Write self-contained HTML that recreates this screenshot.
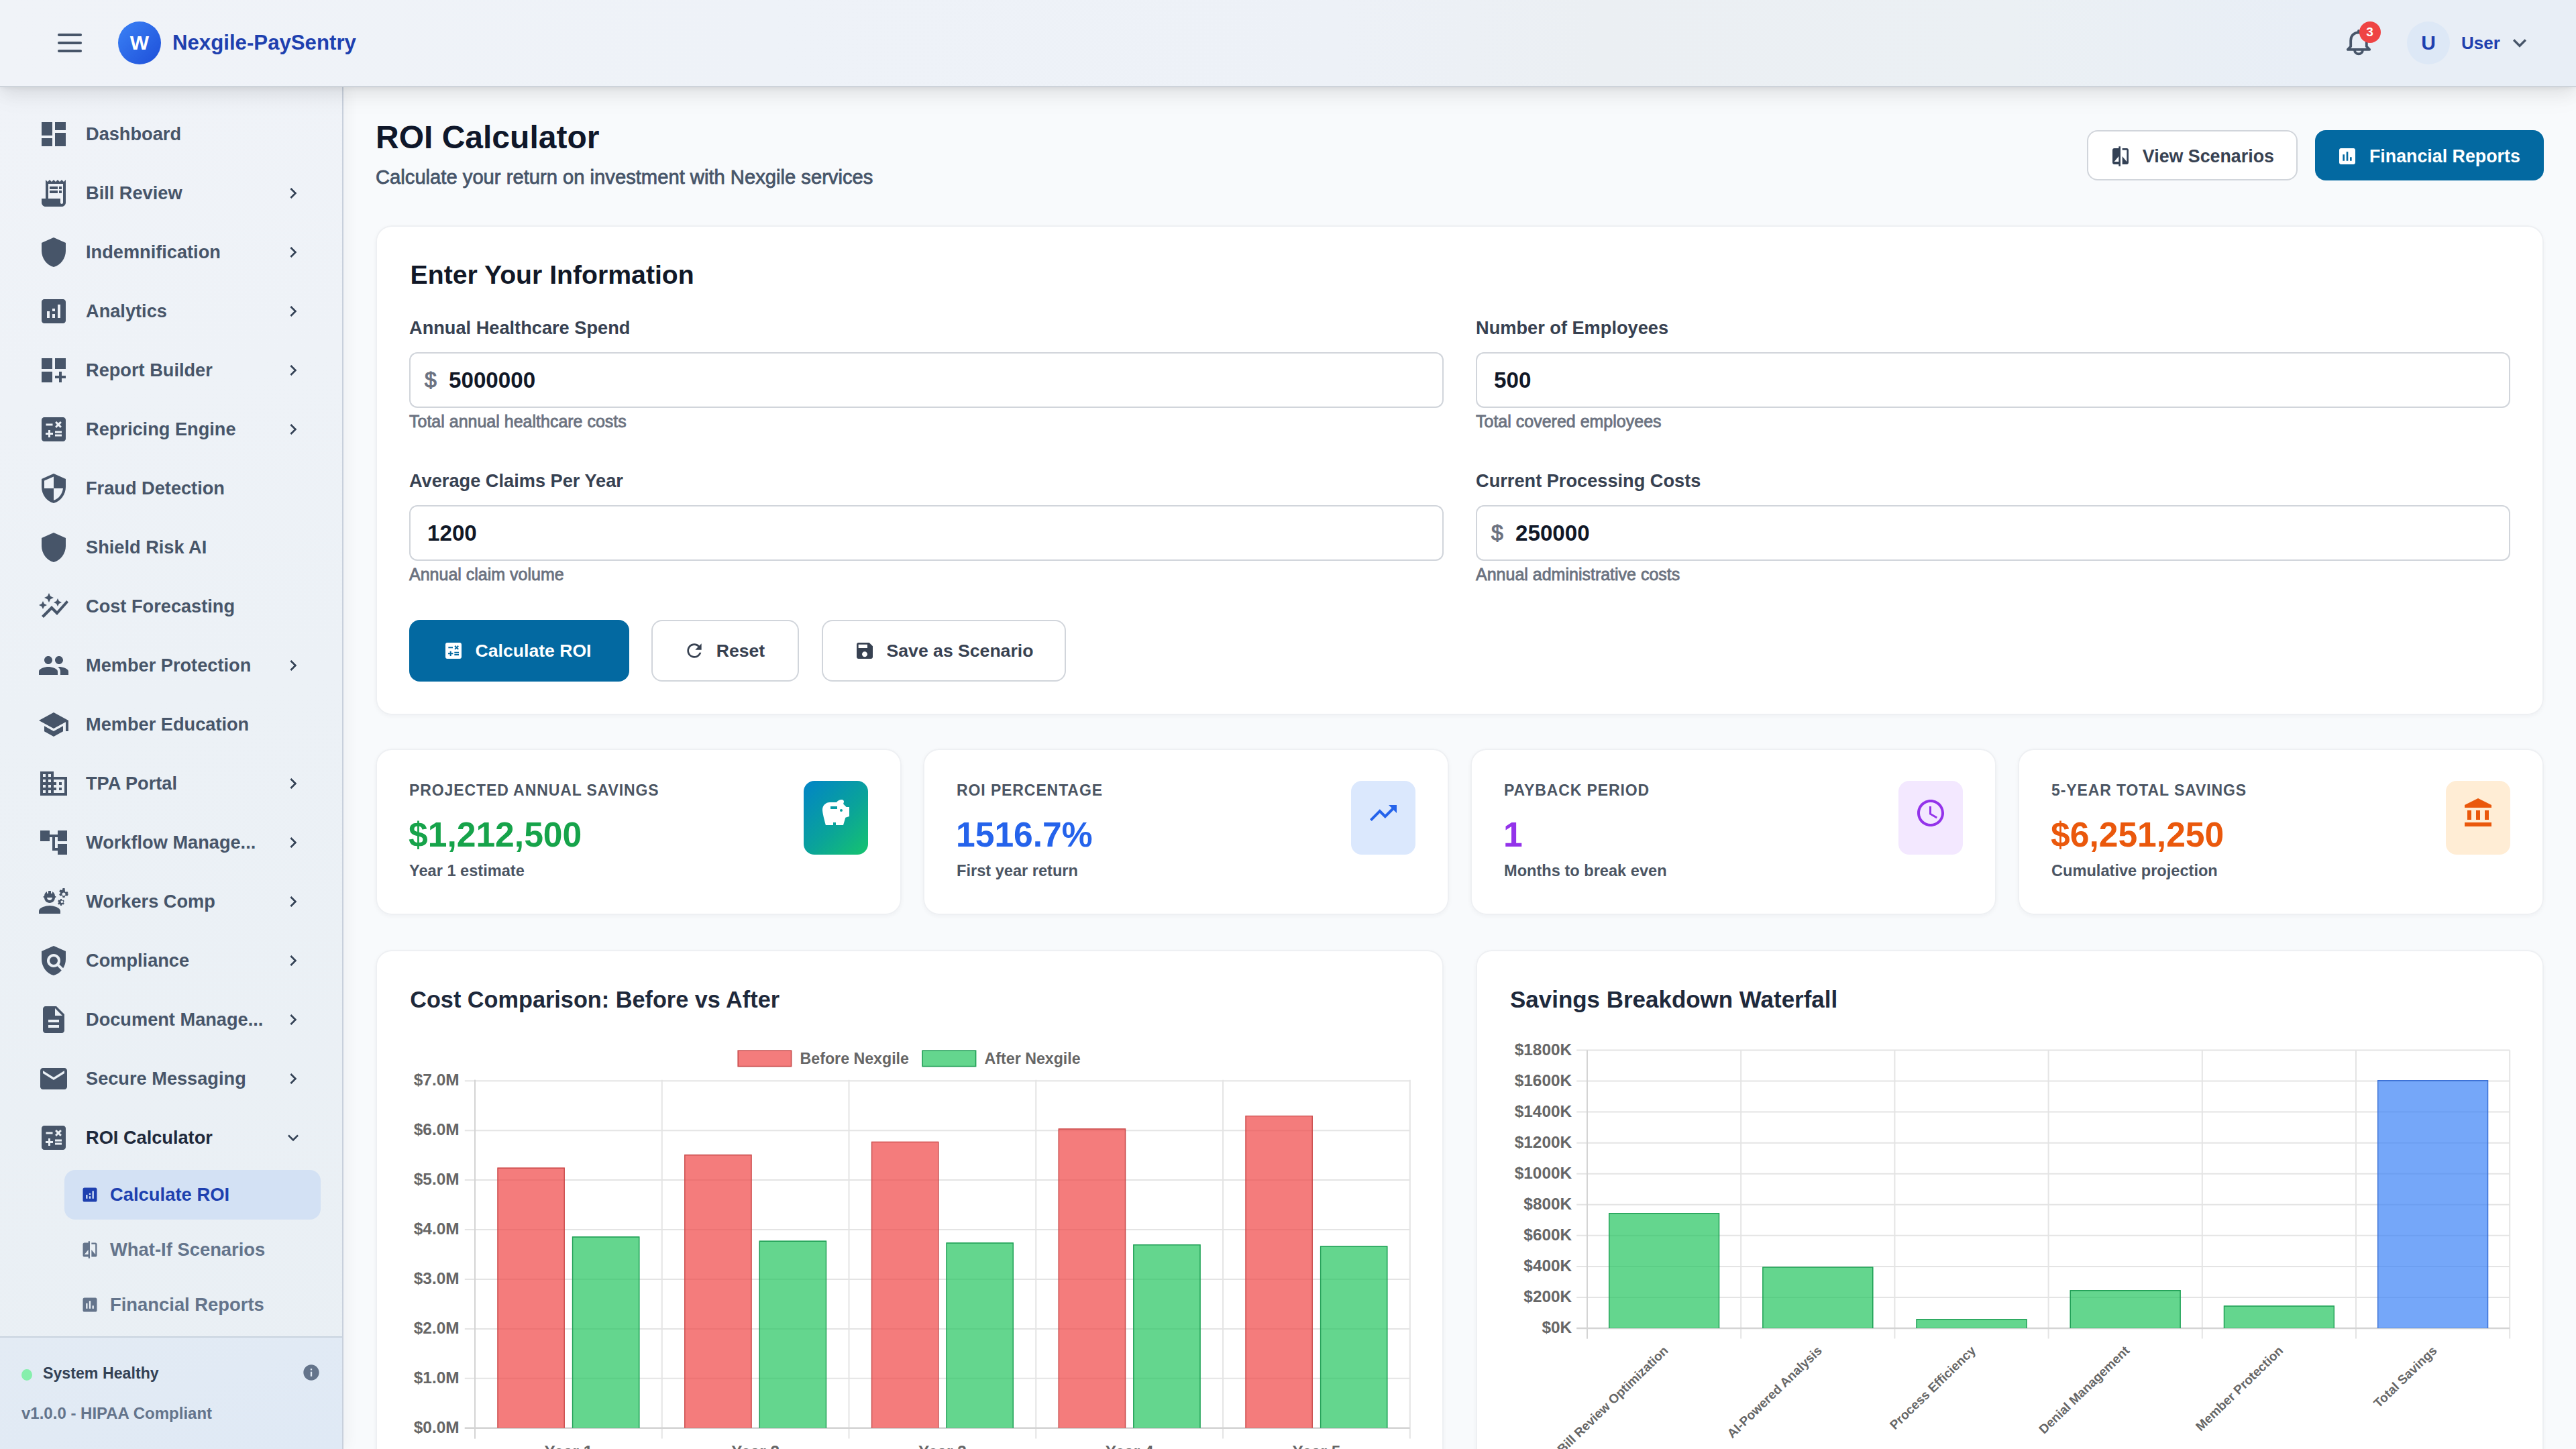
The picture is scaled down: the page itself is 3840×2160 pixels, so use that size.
<!DOCTYPE html>
<html>
<head>
<meta charset="utf-8">
<title>ROI Calculator</title>
<style>
@media (min-width: 2500px) { html { zoom: 2; } }
* { box-sizing: border-box; }
html, body { margin: 0; padding: 0; }
body { width: 1920px; height: 1080px; overflow: hidden; position: relative; background: #f8fafc; font-family: "Liberation Sans", sans-serif; color: #1f2937; }
svg { display: block; }
.abs { position: absolute; }
/* header */
#hdr { position: absolute; left: 0; top: 0; width: 1920px; height: 64px; background: linear-gradient(90deg, #f0f3f8 0%, #eef2f8 30%, #edf1f7 52%, #ebeff3 62%, #ebf0f4 78%, #e8eef6 90%, #e8eef6 100%); box-shadow: 0 1px 0 #cdd3da, 0px 2px 4px -1px rgba(0,0,0,0.08), 0px 5px 12px 0px rgba(0,0,0,0.075), 0px 9px 18px 0px rgba(0,0,0,0.04); z-index: 5; }
/* sidebar */
#side { position: absolute; left: 0; top: 64px; width: 256px; height: 1016px; background: linear-gradient(170deg, #f0f3f8 0%, #ecf1f6 45%, #e9eff4 100%); border-right: 1px solid #c8d0dc; z-index: 3; box-shadow: 2px 0 10px rgba(15,23,42,0.05); }
#main { position: absolute; left: 256px; top: 64px; width: 1664px; height: 1016px; background: #f8fafc; overflow: hidden; }
.nav { position: absolute; left: 0; width: 255px; height: 44px; }
.nav svg.ic { position: absolute; left: 28px; top: 10px; width: 24px; height: 24px; fill: #475569; }
.nav .tx { position: absolute; left: 64px; top: 0; line-height: 44px; font-size: 13.6px; font-weight: 700; color: #475569; white-space: nowrap; }
.nav svg.ch { position: absolute; left: 210.7px; top: 14px; width: 16px; height: 16px; fill: #334155; }
.sub { position: absolute; left: 48px; width: 191px; height: 37px; border-radius: 8px; }
.sub svg { position: absolute; left: 12px; top: 11.5px; width: 14px; height: 14px; fill: #64748b; }
.sub .tx { position: absolute; left: 34px; top: 0; line-height: 37px; font-size: 13.7px; font-weight: 700; color: #64748b; white-space: nowrap; }

.tx5 { -webkit-text-stroke: 0.4px currentColor; }
.hlp { -webkit-text-stroke: 0.4px currentColor; }
.dol { -webkit-text-stroke: 0.5px currentColor; }
.btn { position: absolute; box-shadow: inset 0 0 0 1px #d1d5db; border-radius: 8px; background: #fff; }
.btn span { position: absolute; top: 0.6px; line-height: 37.4px; font-size: 13.4px; font-weight: 700; color: #374151; white-space: nowrap; }
.btn.pri { background: #0369a1; box-shadow: none; }
.btn.pri span { color: #fff; }
.btn.big span { top: 0; line-height: 46px; font-size: 13.3px; }
.card { position: absolute; background: #fff; border-radius: 12px; box-shadow: inset 0 0 0 1px #eef0f3, 0 1px 3px rgba(15,23,42,0.04); }
.lbl { position: absolute; line-height: 20px; font-size: 13.6px; font-weight: 700; color: #374151; white-space: nowrap; }
.inp { position: absolute; width: 771px; height: 41.5px; box-shadow: inset 0 0 0 1px #d1d5db; border-radius: 6px; background: #fff; }
.inp .dol { position: absolute; left: 11.5px; top: 0; line-height: 41.5px; font-size: 16px; color: #6b7280; }
.inp .val { position: absolute; top: 0; line-height: 41.5px; font-size: 16.6px; font-weight: 700; color: #111827; }
.hlp { position: absolute; line-height: 18px; font-size: 12.5px; color: #6b7280; white-space: nowrap; }
.slbl { position: absolute; line-height: 16px; font-size: 11.5px; font-weight: 700; letter-spacing: 0.45px; color: #4b5563; white-space: nowrap; }
.sval { position: absolute; line-height: 32px; font-size: 25.8px; font-weight: 700; white-space: nowrap; }
.ssub { position: absolute; line-height: 18px; font-size: 11.8px; font-weight: 700; color: #4b5563; white-space: nowrap; }
.ctitle { position: absolute; line-height: 26px; font-size: 17.2px; font-weight: 700; color: #1e293b; white-space: nowrap; }
text.tk { font-family: "Liberation Sans", sans-serif; font-size: 12.2px; font-weight: 700; fill: #666; }
text.lg { font-family: "Liberation Sans", sans-serif; font-size: 11.6px; font-weight: 700; fill: #666; }
text.tkx { font-family: "Liberation Sans", sans-serif; font-size: 9.5px; font-weight: 700; fill: #666; }
</style>
</head>
<body>

<!-- HEADER -->
<div id="hdr">
  <svg class="abs" style="left:40px;top:20px;width:24px;height:24px;fill:none;stroke:#475569;stroke-width:2.1;stroke-linecap:round" viewBox="0 0 24 24"><path d="M4 6h16M4 12h16M4 18h16"/></svg>
  <div class="abs" style="left:88px;top:16px;width:32px;height:32px;border-radius:50%;background:linear-gradient(135deg,#3b82f6,#1d4ed8);color:#fff;font-weight:700;font-size:15px;line-height:32px;text-align:center;">W</div>
  <div class="abs" style="left:128.5px;top:0;line-height:64px;font-size:15.6px;font-weight:700;color:#1e40af;white-space:nowrap;">Nexgile-PaySentry</div>

  <svg class="abs" style="left:1746px;top:20px;width:24px;height:24px;fill:none;stroke:#475569;stroke-width:1.9;stroke-linecap:round;stroke-linejoin:round" viewBox="0 0 24 24"><path d="M3.9 16.9 H20.1 L17.9 14.6 V10.2 C17.9 6.6 15.4 4.2 12 4.2 C8.6 4.2 6.1 6.6 6.1 10.2 V14.6 Z"/><path d="M12 3 V4.2"/><path d="M9 17.2 A3 3 0 0 0 15 17.2"/></svg>
  <div class="abs" style="left:1758.3px;top:16px;width:16px;height:16px;border-radius:50%;background:#ef4444;color:#fff;font-size:9.5px;font-weight:700;line-height:16px;text-align:center;">3</div>
  <div class="abs" style="left:1794px;top:16px;width:32px;height:32px;border-radius:50%;background:#dde8f6;color:#1e40af;font-size:15px;font-weight:700;line-height:32px;text-align:center;">U</div>
  <div class="abs" style="left:1834.5px;top:0;line-height:64px;font-size:13px;font-weight:700;color:#1e40af;">User</div>
  <svg class="abs" style="left:1868px;top:21.8px;width:20px;height:20px;fill:#475569" viewBox="0 0 24 24"><path d="M16.59 8.59 12 13.17 7.41 8.59 6 10l6 6 6-6z"/></svg>
</div>

<!-- SIDEBAR -->
<div id="side">
<div class="nav" style="top:14px"><svg class="ic" viewBox="0 0 24 24"><path d="M3 13h8V3H3v10zm0 8h8v-6H3v6zm10 0h8V11h-8v10zm0-18v6h8V3h-8z"/></svg><div class="tx">Dashboard</div></div>
<div class="nav" style="top:58px"><svg class="ic" viewBox="0 0 24 24"><path d="M19.5 3.5 18 2l-1.5 1.5L15 2l-1.5 1.5L12 2l-1.5 1.5L9 2 7.5 3.5 6 2v14H3v3c0 1.66 1.34 3 3 3h12c1.66 0 3-1.34 3-3V2l-1.5 1.5zM19 19c0 .55-.45 1-1 1s-1-.45-1-1v-3H8V5h11v14zM9 7h6v2H9zm7 0h2v2h-2zm-7 3h6v2H9zm7 0h2v2h-2z"/></svg><div class="tx">Bill Review</div><svg class="ch" viewBox="0 0 24 24"><path d="M10 6 8.59 7.41 13.17 12l-4.58 4.59L10 18l6-6z"/></svg></div>
<div class="nav" style="top:102px"><svg class="ic" viewBox="0 0 24 24"><path d="M12 1 3 5v6c0 5.55 3.84 10.74 9 12 5.16-1.26 9-6.45 9-12V5l-9-4z"/></svg><div class="tx">Indemnification</div><svg class="ch" viewBox="0 0 24 24"><path d="M10 6 8.59 7.41 13.17 12l-4.58 4.59L10 18l6-6z"/></svg></div>
<div class="nav" style="top:146px"><svg class="ic" viewBox="0 0 24 24"><path d="M19 3H5c-1.1 0-2 .9-2 2v14c0 1.1.9 2 2 2h14c1.1 0 2-.9 2-2V5c0-1.1-.9-2-2-2zM9 17H7v-5h2v5zm4 0h-2v-3h2v3zm0-5h-2v-2h2v2zm4 5h-2V7h2v10z"/></svg><div class="tx">Analytics</div><svg class="ch" viewBox="0 0 24 24"><path d="M10 6 8.59 7.41 13.17 12l-4.58 4.59L10 18l6-6z"/></svg></div>
<div class="nav" style="top:190px"><svg class="ic" viewBox="0 0 24 24"><path d="M3 3h8v8H3zm10 0h8v8h-8zM3 13h8v8H3zm15 0h-2v3h-3v2h3v3h2v-3h3v-2h-3z"/></svg><div class="tx">Report Builder</div><svg class="ch" viewBox="0 0 24 24"><path d="M10 6 8.59 7.41 13.17 12l-4.58 4.59L10 18l6-6z"/></svg></div>
<div class="nav" style="top:234px"><svg class="ic" viewBox="0 0 24 24"><path d="M19 3H5c-1.1 0-2 .9-2 2v14c0 1.1.9 2 2 2h14c1.1 0 2-.9 2-2V5c0-1.1-.9-2-2-2zm-5.97 4.06L14.09 6l1.41 1.41L16.91 6l1.06 1.06-1.41 1.41 1.41 1.41-1.06 1.06-1.41-1.4-1.41 1.41-1.06-1.06 1.41-1.41-1.41-1.42zm-6.78.66h5v1.5h-5v-1.5zM11.5 16h-2v2H8v-2H6v-1.5h2v-2h1.5v2h2V16zm6.5 1.25h-5v-1.5h5v1.5zm0-2.5h-5v-1.5h5v1.5z"/></svg><div class="tx">Repricing Engine</div><svg class="ch" viewBox="0 0 24 24"><path d="M10 6 8.59 7.41 13.17 12l-4.58 4.59L10 18l6-6z"/></svg></div>
<div class="nav" style="top:278px"><svg class="ic" viewBox="0 0 24 24"><path d="M12 1 3 5v6c0 5.55 3.84 10.74 9 12 5.16-1.26 9-6.45 9-12V5l-9-4zm0 10.99h7c-.53 4.12-3.28 7.79-7 8.94V12H5V6.3l7-3.11v8.8z"/></svg><div class="tx">Fraud Detection</div></div>
<div class="nav" style="top:322px"><svg class="ic" viewBox="0 0 24 24"><path d="M12 1 3 5v6c0 5.55 3.84 10.74 9 12 5.16-1.26 9-6.45 9-12V5l-9-4z"/></svg><div class="tx">Shield Risk AI</div></div>
<div class="nav" style="top:366px"><svg class="ic" viewBox="0 0 24 24"><path d="M14.06 9.94 12 9l2.06-.94L15 6l.94 2.06L18 9l-2.06.94L15 12l-.94-2.06zM4 14l.94-2.06L7 11l-2.06-.94L4 8l-.94 2.06L1 11l2.06.94L4 14zm4.5-5 1.09-2.41L12 5.5 9.59 4.41 8.5 2 7.41 4.41 5 5.5l2.41 1.09L8.5 9zm-4 11.5 6-6.01 4 4L23 8.93l-1.41-1.41-7.09 7.97-4-4L3 19l1.5 1.5z"/></svg><div class="tx">Cost Forecasting</div></div>
<div class="nav" style="top:410px"><svg class="ic" viewBox="0 0 24 24"><path d="M16 11c1.66 0 2.99-1.34 2.99-3S17.66 5 16 5c-1.66 0-3 1.34-3 3s1.34 3 3 3zm-8 0c1.66 0 2.99-1.34 2.99-3S9.66 5 8 5C6.34 5 5 6.34 5 8s1.34 3 3 3zm0 2c-2.33 0-7 1.17-7 3.5V19h14v-2.5c0-2.33-4.67-3.5-7-3.5zm8 0c-.29 0-.62.02-.97.05 1.16.84 1.97 1.97 1.97 3.45V19h6v-2.5c0-2.33-4.67-3.5-7-3.5z"/></svg><div class="tx">Member Protection</div><svg class="ch" viewBox="0 0 24 24"><path d="M10 6 8.59 7.41 13.17 12l-4.58 4.59L10 18l6-6z"/></svg></div>
<div class="nav" style="top:454px"><svg class="ic" viewBox="0 0 24 24"><path d="M5 13.18v4L12 21l7-3.82v-4L12 17l-7-3.82zM12 3 1 9l11 6 9-4.91V17h2V9L12 3z"/></svg><div class="tx">Member Education</div></div>
<div class="nav" style="top:498px"><svg class="ic" viewBox="0 0 24 24"><path d="M12 7V3H2v18h20V7H12zM6 19H4v-2h2v2zm0-4H4v-2h2v2zm0-4H4V9h2v2zm0-4H4V5h2v2zm4 12H8v-2h2v2zm0-4H8v-2h2v2zm0-4H8V9h2v2zm0-4H8V5h2v2zm10 12h-8v-2h2v-2h-2v-2h2v-2h-2V9h8v10zm-2-8h-2v2h2v-2zm0 4h-2v2h2v-2z"/></svg><div class="tx">TPA Portal</div><svg class="ch" viewBox="0 0 24 24"><path d="M10 6 8.59 7.41 13.17 12l-4.58 4.59L10 18l6-6z"/></svg></div>
<div class="nav" style="top:542px"><svg class="ic" viewBox="0 0 24 24"><path d="M22 11V3h-7v3H9V3H2v8h7V8h2v10h4v3h7v-8h-7v3h-2V8h2v3z"/></svg><div class="tx">Workflow Manage...</div><svg class="ch" viewBox="0 0 24 24"><path d="M10 6 8.59 7.41 13.17 12l-4.58 4.59L10 18l6-6z"/></svg></div>
<div class="nav" style="top:586px"><svg class="ic" viewBox="0 0 24 24"><path d="M9 15c-2.67 0-8 1.34-8 4v2h16v-2c0-2.66-5.33-4-8-4zM4.74 9H5c0 2.21 1.79 4 4 4s4-1.79 4-4h.26c.27 0 .49-.22.49-.49v-.02c0-.27-.22-.49-.49-.49H13c0-1.48-.81-2.75-2-3.45v.95c0 .28-.22.5-.5.5s-.5-.22-.5-.5V4.14C9.68 4.06 9.35 4 9 4s-.68.06-1 .14V5.5c0 .28-.22.5-.5.5S7 5.78 7 5.5v-.95C5.81 5.25 5 6.52 5 8h-.26c-.27 0-.49.22-.49.49v.03c0 .26.22.48.49.48zM9 11c-1.1 0-2-.9-2-2h4c0 1.1-.9 2-2 2zm12.98-4.37.93-.83-.75-1.3-1.19.39c-.14-.11-.3-.2-.47-.27L20.25 2h-1.5l-.25 1.22c-.17.07-.33.16-.48.27l-1.18-.39-.75 1.3.93.83c-.02.17-.02.35 0 .52l-.93.85.75 1.3 1.2-.38c.13.1.28.18.43.25l.28 1.23h1.5l.27-1.22c.16-.07.3-.15.44-.25l1.19.38.75-1.3-.93-.85c.03-.19.02-.36.01-.53zM19.5 7.75c-.69 0-1.25-.56-1.25-1.25s.56-1.25 1.25-1.25 1.25.56 1.25 1.25-.56 1.25-1.25 1.25zm-.1 3.04-.85.28c-.1-.08-.21-.14-.33-.19l-.18-.88h-1.07l-.18.87c-.12.05-.24.12-.34.19l-.84-.28-.54.93.66.59c-.01.13-.01.25 0 .37l-.66.61.54.93.86-.27c.1.07.2.13.31.18l.18.88h1.07l.19-.87c.11-.05.22-.11.32-.18l.85.27.54-.93-.66-.61c.01-.13.01-.25 0-.37l.66-.59-.53-.93zM18.15 13c-.49 0-.89-.4-.89-.89s.4-.89.89-.89.89.4.89.89-.4.89-.89.89z"/></svg><div class="tx">Workers Comp</div><svg class="ch" viewBox="0 0 24 24"><path d="M10 6 8.59 7.41 13.17 12l-4.58 4.59L10 18l6-6z"/></svg></div>
<div class="nav" style="top:630px"><svg class="ic" viewBox="0 0 24 24"><path d="M21 5l-9-4-9 4v6c0 5.55 3.84 10.74 9 12 2.3-.56 4.33-1.9 5.88-3.71l-3.12-3.12c-1.94 1.29-4.58 1.07-6.29-.64-1.95-1.95-1.95-5.12 0-7.07 1.95-1.95 5.12-1.95 7.07 0 1.71 1.71 1.92 4.35.64 6.29l2.9 2.9C20.29 15.69 21 13.38 21 11V5zM12 9a3 3 0 1 0 0 6 3 3 0 1 0 0-6z"/></svg><div class="tx">Compliance</div><svg class="ch" viewBox="0 0 24 24"><path d="M10 6 8.59 7.41 13.17 12l-4.58 4.59L10 18l6-6z"/></svg></div>
<div class="nav" style="top:674px"><svg class="ic" viewBox="0 0 24 24"><path d="M14 2H6c-1.1 0-1.99.9-1.99 2L4 20c0 1.1.89 2 1.99 2H18c1.1 0 2-.9 2-2V8l-6-6zm2 16H8v-2h8v2zm0-4H8v-2h8v2zm-3-5V3.5L18.5 9H13z"/></svg><div class="tx">Document Manage...</div><svg class="ch" viewBox="0 0 24 24"><path d="M10 6 8.59 7.41 13.17 12l-4.58 4.59L10 18l6-6z"/></svg></div>
<div class="nav" style="top:718px"><svg class="ic" viewBox="0 0 24 24"><path d="M20 4H4c-1.1 0-1.99.9-1.99 2L2 18c0 1.1.9 2 2 2h16c1.1 0 2-.9 2-2V6c0-1.1-.9-2-2-2zm0 4-8 5-8-5V6l8 5 8-5v2z"/></svg><div class="tx">Secure Messaging</div><svg class="ch" viewBox="0 0 24 24"><path d="M10 6 8.59 7.41 13.17 12l-4.58 4.59L10 18l6-6z"/></svg></div>
<div class="nav" style="top:762px"><svg class="ic" viewBox="0 0 24 24"><path d="M19 3H5c-1.1 0-2 .9-2 2v14c0 1.1.9 2 2 2h14c1.1 0 2-.9 2-2V5c0-1.1-.9-2-2-2zm-5.97 4.06L14.09 6l1.41 1.41L16.91 6l1.06 1.06-1.41 1.41 1.41 1.41-1.06 1.06-1.41-1.4-1.41 1.41-1.06-1.06 1.41-1.41-1.41-1.42zm-6.78.66h5v1.5h-5v-1.5zM11.5 16h-2v2H8v-2H6v-1.5h2v-2h1.5v2h2V16zm6.5 1.25h-5v-1.5h5v1.5zm0-2.5h-5v-1.5h5v1.5z"/></svg><div class="tx" style="color:#1e293b">ROI Calculator</div><svg class="ch" viewBox="0 0 24 24"><path d="M16.59 8.59 12 13.17 7.41 8.59 6 10l6 6 6-6z"/></svg></div>
<div class="sub" style="top:808px;background:#d3e1f4"><svg viewBox="0 0 24 24" style="fill:#1e40af"><path d="M19 3H5c-1.1 0-2 .9-2 2v14c0 1.1.9 2 2 2h14c1.1 0 2-.9 2-2V5c0-1.1-.9-2-2-2zM9 17H7v-5h2v5zm4 0h-2v-3h2v3zm0-5h-2v-2h2v2zm4 5h-2V7h2v10z"/></svg><div class="tx" style="color:#1e40af">Calculate ROI</div></div>
<div class="sub" style="top:849px"><svg viewBox="0 0 24 24"><path d="M10 3H5c-1.1 0-2 .9-2 2v14c0 1.1.9 2 2 2h5v2h2V1h-2v2zm0 15H5l5-6v6zm9-15h-5v2h5v13l-5-6v9h5c1.1 0 2-.9 2-2V5c0-1.1-.9-2-2-2z"/></svg><div class="tx">What-If Scenarios</div></div>
<div class="sub" style="top:890px"><svg viewBox="0 0 24 24"><path d="M19 3H5c-1.1 0-2 .9-2 2v14c0 1.1.9 2 2 2h14c1.1 0 2-.9 2-2V5c0-1.1-.9-2-2-2zM9 17H7v-7h2v7zm4 0h-2V7h2v10zm4 0h-2v-4h2v4z"/></svg><div class="tx">Financial Reports</div></div>
<div class="abs" style="left:0;top:932px;width:255px;height:84px;background:linear-gradient(160deg,#e3ebf4,#dfe9f5);border-top:1px solid #c9d3df"></div>
<div class="abs" style="left:16px;top:956.5px;width:8px;height:8.5px;border-radius:50%;background:#86efac"></div>
<div class="abs" style="left:32px;top:950px;line-height:19px;font-size:11.6px;font-weight:700;color:#334155;white-space:nowrap">System Healthy</div>
<svg class="abs" style="left:225px;top:952px;width:14px;height:14px;fill:#64748b" viewBox="0 0 24 24"><path d="M12 2C6.48 2 2 6.48 2 12s4.48 10 10 10 10-4.48 10-10S17.52 2 12 2zm1 15h-2v-6h2v6zm0-8h-2V7h2v2z"/></svg>
<div class="abs" style="left:16px;top:980px;line-height:19px;font-size:12px;font-weight:700;color:#64748b;white-space:nowrap">v1.0.0 - HIPAA Compliant</div>
</div>

<!-- MAIN -->
<div id="main">
<div class="abs" style="left:24px;top:22px;line-height:33px;font-size:24px;font-weight:700;color:#0f172a;white-space:nowrap">ROI Calculator</div>
<div class="abs tx5" style="left:24px;top:58px;line-height:20px;font-size:14.6px;color:#475569;white-space:nowrap">Calculate your return on investment with Nexgile services</div>
<div class="btn" style="left:1299.4px;top:33.2px;width:157.3px;height:37.4px"><svg class="abs" style="left:17px;top:11.1px;width:16px;height:16px;fill:#334155" viewBox="0 0 24 24"><path d="M10 3H5c-1.1 0-2 .9-2 2v14c0 1.1.9 2 2 2h5v2h2V1h-2v2zm0 15H5l5-6v6zm9-15h-5v2h5v13l-5-6v9h5c1.1 0 2-.9 2-2V5c0-1.1-.9-2-2-2z"/></svg><span style="left:41.5px">View Scenarios</span></div>
<div class="btn pri" style="left:1469.3px;top:33.2px;width:170.7px;height:37.4px"><svg class="abs" style="left:16.3px;top:11.1px;width:16px;height:16px;fill:#fff" viewBox="0 0 24 24"><path d="M19 3H5c-1.1 0-2 .9-2 2v14c0 1.1.9 2 2 2h14c1.1 0 2-.9 2-2V5c0-1.1-.9-2-2-2zM9 17H7v-7h2v7zm4 0h-2V7h2v10zm4 0h-2v-4h2v4z"/></svg><span style="left:40.7px">Financial Reports</span></div>
<div class="card" style="left:24px;top:104px;width:1616px;height:365px"><div class="abs" style="left:25.8px;top:24px;line-height:26px;font-size:19.6px;font-weight:700;color:#111827;white-space:nowrap">Enter Your Information</div><div class="lbl" style="left:25px;top:66.5px">Annual Healthcare Spend</div><div class="inp" style="left:25px;top:94.5px"><span class="dol">$</span><span class="val" style="left:29.5px">5000000</span></div><div class="hlp tx5" style="left:25px;top:137px">Total annual healthcare costs</div><div class="lbl" style="left:820px;top:66.5px">Number of Employees</div><div class="inp" style="left:820px;top:94.5px"><span class="val" style="left:13.5px">500</span></div><div class="hlp tx5" style="left:820px;top:137px">Total covered employees</div><div class="lbl" style="left:25px;top:180.5px">Average Claims Per Year</div><div class="inp" style="left:25px;top:208.5px"><span class="val" style="left:13.5px">1200</span></div><div class="hlp tx5" style="left:25px;top:251px">Annual claim volume</div><div class="lbl" style="left:820px;top:180.5px">Current Processing Costs</div><div class="inp" style="left:820px;top:208.5px"><span class="dol">$</span><span class="val" style="left:29.5px">250000</span></div><div class="hlp tx5" style="left:820px;top:251px">Annual administrative costs</div><div class="btn pri big" style="left:25px;top:294px;width:164px;height:46px"><svg class="abs" style="left:24.8px;top:15px;width:16px;height:16px;fill:#fff" viewBox="0 0 24 24"><path d="M19 3H5c-1.1 0-2 .9-2 2v14c0 1.1.9 2 2 2h14c1.1 0 2-.9 2-2V5c0-1.1-.9-2-2-2zm-5.97 4.06L14.09 6l1.41 1.41L16.91 6l1.06 1.06-1.41 1.41 1.41 1.41-1.06 1.06-1.41-1.4-1.41 1.41-1.06-1.06 1.41-1.41-1.41-1.42zm-6.78.66h5v1.5h-5v-1.5zM11.5 16h-2v2H8v-2H6v-1.5h2v-2h1.5v2h2V16zm6.5 1.25h-5v-1.5h5v1.5zm0-2.5h-5v-1.5h5v1.5z"/></svg><span style="left:49.3px">Calculate ROI</span></div><div class="btn big" style="left:205.3px;top:294px;width:110.3px;height:46px"><svg class="abs" style="left:24px;top:15px;width:16px;height:16px;fill:#374151" viewBox="0 0 24 24"><path d="M17.65 6.35C16.2 4.9 14.21 4 12 4c-4.42 0-7.99 3.58-7.99 8s3.57 8 7.99 8c3.73 0 6.84-2.55 7.73-6h-2.08c-.82 2.33-3.04 4-5.65 4-3.31 0-6-2.69-6-6s2.69-6 6-6c1.66 0 3.14.69 4.22 1.78L13 11h7V4l-2.35 2.35z"/></svg><span style="left:48.6px">Reset</span></div><div class="btn big" style="left:332.3px;top:294px;width:182.1px;height:46px"><svg class="abs" style="left:24.3px;top:15px;width:16px;height:16px;fill:#374151" viewBox="0 0 24 24"><path d="M17 3H5c-1.11 0-2 .9-2 2v14c0 1.1.89 2 2 2h14c1.1 0 2-.9 2-2V7l-4-4zm-5 16c-1.66 0-3-1.34-3-3s1.34-3 3-3 3 1.34 3 3-1.34 3-3 3zm3-10H5V5h10v4z"/></svg><span style="left:48.5px">Save as Scenario</span></div></div>
<div class="card" style="left:24px;top:494px;width:392px;height:124px"><div class="slbl" style="left:25px;top:23.2px">PROJECTED ANNUAL SAVINGS</div><div class="sval" style="left:24.5px;top:48px;color:#16a34a">$1,212,500</div><div class="ssub" style="left:25px;top:82px">Year 1 estimate</div><div class="abs" style="left:319px;top:24px;width:48px;height:55px;border-radius:8px;background:linear-gradient(135deg,#0284c7 0%,#0aa39a 55%,#16c46e 100%)"><svg class="abs" style="left:12px;top:12px;width:24px;height:24px;fill:#ffffff" viewBox="0 0 24 24"><path d="M19.83 7.5l-2.27-2.27c.07-.42.18-.81.32-1.15.08-.18.12-.37.12-.58 0-.83-.67-1.5-1.5-1.5-1.64 0-3.09.79-4 2h-5C4.46 4 2 6.46 2 9.5S4.5 21 4.5 21H10v-2h2v2h5.5l1.68-5.59 2.82-.94V7.5h-2.17zM13 9H8V7h5v2zm3 2c-.55 0-1-.45-1-1s.45-1 1-1 1 .45 1 1-.45 1-1 1z"/></svg></div></div>
<div class="card" style="left:432px;top:494px;width:392px;height:124px"><div class="slbl" style="left:25px;top:23.2px">ROI PERCENTAGE</div><div class="sval" style="left:24.5px;top:48px;color:#2563eb">1516.7%</div><div class="ssub" style="left:25px;top:82px">First year return</div><div class="abs" style="left:319px;top:24px;width:48px;height:55px;border-radius:8px;background:#dbe8fd"><svg class="abs" style="left:12px;top:12px;width:24px;height:24px;fill:#2563eb" viewBox="0 0 24 24"><path d="M16 6l2.29 2.29-4.88 4.88-4-4L2 16.59 3.41 18l6-6 4 4 6.3-6.29L22 12V6z"/></svg></div></div>
<div class="card" style="left:840px;top:494px;width:392px;height:124px"><div class="slbl" style="left:25px;top:23.2px">PAYBACK PERIOD</div><div class="sval" style="left:24.5px;top:48px;color:#9333ea">1</div><div class="ssub" style="left:25px;top:82px">Months to break even</div><div class="abs" style="left:319px;top:24px;width:48px;height:55px;border-radius:8px;background:#f3e8ff"><svg class="abs" style="left:12px;top:12px;width:24px;height:24px;fill:#9333ea" viewBox="0 0 24 24"><path d="M11.99 2C6.47 2 2 6.48 2 12s4.47 10 9.99 10C17.52 22 22 17.52 22 12S17.52 2 11.99 2zM12 20c-4.42 0-8-3.58-8-8s3.58-8 8-8 8 3.58 8 8-3.58 8-8 8zm.5-13H11v6l5.25 3.15.75-1.23-4.5-2.67z"/></svg></div></div>
<div class="card" style="left:1248px;top:494px;width:392px;height:124px"><div class="slbl" style="left:25px;top:23.2px">5-YEAR TOTAL SAVINGS</div><div class="sval" style="left:24.5px;top:48px;color:#ea580c">$6,251,250</div><div class="ssub" style="left:25px;top:82px">Cumulative projection</div><div class="abs" style="left:319px;top:24px;width:48px;height:55px;border-radius:8px;background:#ffedd5"><svg class="abs" style="left:12px;top:12px;width:24px;height:24px;fill:#ea580c" viewBox="0 0 24 24"><path d="M4 10h3v7H4zM10.5 10h3v7h-3zM2 19h20v3H2zM17 10h3v7h-3zM12 1 2 6v2h20V6z"/></svg></div></div>
<div class="card" style="left:24px;top:644px;width:796px;height:560px"><svg class="abs" style="left:0;top:0;overflow:visible" width="796" height="400"><line x1="66.39999999999998" y1="356.4000000000001" x2="770.9000000000001" y2="356.4000000000001" stroke="#e4e4e4" stroke-width="1"/><text x="62.30000000000001" y="359.9000000000001" text-anchor="end" class="tk">$0.0M</text><line x1="66.39999999999998" y1="319.43000000000006" x2="770.9000000000001" y2="319.43000000000006" stroke="#e4e4e4" stroke-width="1"/><text x="62.30000000000001" y="322.93000000000006" text-anchor="end" class="tk">$1.0M</text><line x1="66.39999999999998" y1="282.46000000000004" x2="770.9000000000001" y2="282.46000000000004" stroke="#e4e4e4" stroke-width="1"/><text x="62.30000000000001" y="285.96000000000004" text-anchor="end" class="tk">$2.0M</text><line x1="66.39999999999998" y1="245.49000000000012" x2="770.9000000000001" y2="245.49000000000012" stroke="#e4e4e4" stroke-width="1"/><text x="62.30000000000001" y="248.99000000000012" text-anchor="end" class="tk">$3.0M</text><line x1="66.39999999999998" y1="208.5200000000001" x2="770.9000000000001" y2="208.5200000000001" stroke="#e4e4e4" stroke-width="1"/><text x="62.30000000000001" y="212.0200000000001" text-anchor="end" class="tk">$4.0M</text><line x1="66.39999999999998" y1="171.55000000000007" x2="770.9000000000001" y2="171.55000000000007" stroke="#e4e4e4" stroke-width="1"/><text x="62.30000000000001" y="175.05000000000007" text-anchor="end" class="tk">$5.0M</text><line x1="66.39999999999998" y1="134.58000000000015" x2="770.9000000000001" y2="134.58000000000015" stroke="#e4e4e4" stroke-width="1"/><text x="62.30000000000001" y="138.08000000000015" text-anchor="end" class="tk">$6.0M</text><line x1="66.39999999999998" y1="97.61000000000013" x2="770.9000000000001" y2="97.61000000000013" stroke="#e4e4e4" stroke-width="1"/><text x="62.30000000000001" y="101.11000000000013" text-anchor="end" class="tk">$7.0M</text><line x1="74.0" y1="96.89999999999998" x2="74.0" y2="364.20000000000005" stroke="#e4e4e4" stroke-width="1"/><line x1="213.38" y1="96.89999999999998" x2="213.38" y2="364.20000000000005" stroke="#e4e4e4" stroke-width="1"/><line x1="352.76" y1="96.89999999999998" x2="352.76" y2="364.20000000000005" stroke="#e4e4e4" stroke-width="1"/><line x1="492.1400000000001" y1="96.89999999999998" x2="492.1400000000001" y2="364.20000000000005" stroke="#e4e4e4" stroke-width="1"/><line x1="631.5200000000001" y1="96.89999999999998" x2="631.5200000000001" y2="364.20000000000005" stroke="#e4e4e4" stroke-width="1"/><line x1="770.9000000000001" y1="96.89999999999998" x2="770.9000000000001" y2="364.20000000000005" stroke="#e4e4e4" stroke-width="1"/><line x1="74.0" y1="96.89999999999998" x2="74.0" y2="364.20000000000005" stroke="#d4d4d4" stroke-width="1"/><line x1="66.39999999999998" y1="356.4000000000001" x2="770.9000000000001" y2="356.4000000000001" stroke="#d4d4d4" stroke-width="1.2"/><rect x="90.72559999999999" y="162.30750000000012" width="50.17680000000001" height="194.09249999999997" fill="#ef4444" fill-opacity="0.7"/><path d="M91.02559999999998 356.4000000000001 V162.60750000000013 H140.6024 V356.4000000000001" fill="none" stroke="#c94d4d" stroke-width="0.7"/><rect x="146.4776" y="213.69580000000008" width="50.17680000000001" height="142.70420000000001" fill="#22c55e" fill-opacity="0.7"/><path d="M146.7776 356.4000000000001 V213.9958000000001 H196.3544 V356.4000000000001" fill="none" stroke="#1f9e55" stroke-width="0.7"/><text x="143.69" y="378" text-anchor="middle" class="tk">Year 1</text><rect x="230.10559999999998" y="152.60287500000004" width="50.17680000000001" height="203.79712500000005" fill="#ef4444" fill-opacity="0.7"/><path d="M230.4056 356.4000000000001 V152.90287500000005 H279.9823999999999 V356.4000000000001" fill="none" stroke="#c94d4d" stroke-width="0.7"/><rect x="285.85759999999993" y="216.80128000000013" width="50.17680000000001" height="139.59871999999996" fill="#22c55e" fill-opacity="0.7"/><path d="M286.15759999999995 356.4000000000001 V217.10128000000014 H335.7343999999999 V356.4000000000001" fill="none" stroke="#1f9e55" stroke-width="0.7"/><text x="283.07000000000005" y="378" text-anchor="middle" class="tk">Year 2</text><rect x="369.4856" y="142.89825000000008" width="50.17680000000001" height="213.50175000000002" fill="#ef4444" fill-opacity="0.7"/><path d="M369.7856 356.4000000000001 V143.1982500000001 H419.3623999999999 V356.4000000000001" fill="none" stroke="#c94d4d" stroke-width="0.7"/><rect x="425.23760000000004" y="218.16917000000012" width="50.17680000000001" height="138.23082999999997" fill="#22c55e" fill-opacity="0.7"/><path d="M425.53760000000005 356.4000000000001 V218.46917000000013 H475.1144 V356.4000000000001" fill="none" stroke="#1f9e55" stroke-width="0.7"/><text x="422.45000000000005" y="378" text-anchor="middle" class="tk">Year 3</text><rect x="508.8656000000001" y="133.1936250000001" width="50.17680000000001" height="223.20637499999998" fill="#ef4444" fill-opacity="0.7"/><path d="M509.1656000000001 356.4000000000001 V133.49362500000012 H558.7424000000001 V356.4000000000001" fill="none" stroke="#c94d4d" stroke-width="0.7"/><rect x="564.6176000000002" y="219.6110000000001" width="50.17680000000001" height="136.789" fill="#22c55e" fill-opacity="0.7"/><path d="M564.9176000000001 356.4000000000001 V219.91100000000012 H614.4944000000002 V356.4000000000001" fill="none" stroke="#1f9e55" stroke-width="0.7"/><text x="561.8300000000002" y="378" text-anchor="middle" class="tk">Year 4</text><rect x="648.2456000000001" y="123.48900000000015" width="50.17680000000001" height="232.91099999999994" fill="#ef4444" fill-opacity="0.7"/><path d="M648.5456 356.4000000000001 V123.78900000000014 H698.1224000000001 V356.4000000000001" fill="none" stroke="#c94d4d" stroke-width="0.7"/><rect x="703.9976" y="220.72010000000012" width="50.17680000000001" height="135.67989999999998" fill="#22c55e" fill-opacity="0.7"/><path d="M704.2976 356.4000000000001 V221.02010000000013 H753.8744000000002 V356.4000000000001" fill="none" stroke="#1f9e55" stroke-width="0.7"/><text x="701.2100000000002" y="378" text-anchor="middle" class="tk">Year 5</text><rect x="270.1" y="75.10000000000002" width="39.7" height="11.7" fill="#ef4444" fill-opacity="0.7" stroke="#c94d4d" stroke-width="0.8"/><text x="316.29999999999995" y="85.20000000000005" class="lg">Before Nexgile</text><rect x="407.5" y="75.10000000000002" width="39.8" height="11.7" fill="#22c55e" fill-opacity="0.7" stroke="#1f9e55" stroke-width="0.8"/><text x="453.79999999999995" y="85.20000000000005" class="lg">After Nexgile</text></svg><div class="ctitle" style="left:25.6px;top:24px;font-size:17.14px">Cost Comparison: Before vs After</div></div>
<div class="card" style="left:844px;top:644px;width:796px;height:560px"><svg class="abs" style="left:0;top:0;overflow:visible" width="796" height="400"><line x1="75.09999999999991" y1="282.0" x2="770.5999999999999" y2="282.0" stroke="#e4e4e4" stroke-width="1"/><text x="71.59999999999991" y="285.6" text-anchor="end" class="tk">$0K</text><line x1="75.09999999999991" y1="258.97" x2="770.5999999999999" y2="258.97" stroke="#e4e4e4" stroke-width="1"/><text x="71.59999999999991" y="262.57000000000005" text-anchor="end" class="tk">$200K</text><line x1="75.09999999999991" y1="235.94000000000005" x2="770.5999999999999" y2="235.94000000000005" stroke="#e4e4e4" stroke-width="1"/><text x="71.59999999999991" y="239.54000000000005" text-anchor="end" class="tk">$400K</text><line x1="75.09999999999991" y1="212.90999999999997" x2="770.5999999999999" y2="212.90999999999997" stroke="#e4e4e4" stroke-width="1"/><text x="71.59999999999991" y="216.50999999999996" text-anchor="end" class="tk">$600K</text><line x1="75.09999999999991" y1="189.88" x2="770.5999999999999" y2="189.88" stroke="#e4e4e4" stroke-width="1"/><text x="71.59999999999991" y="193.48" text-anchor="end" class="tk">$800K</text><line x1="75.09999999999991" y1="166.85000000000002" x2="770.5999999999999" y2="166.85000000000002" stroke="#e4e4e4" stroke-width="1"/><text x="71.59999999999991" y="170.45000000000002" text-anchor="end" class="tk">$1000K</text><line x1="75.09999999999991" y1="143.81999999999994" x2="770.5999999999999" y2="143.81999999999994" stroke="#e4e4e4" stroke-width="1"/><text x="71.59999999999991" y="147.41999999999993" text-anchor="end" class="tk">$1200K</text><line x1="75.09999999999991" y1="120.78999999999996" x2="770.5999999999999" y2="120.78999999999996" stroke="#e4e4e4" stroke-width="1"/><text x="71.59999999999991" y="124.38999999999996" text-anchor="end" class="tk">$1400K</text><line x1="75.09999999999991" y1="97.75999999999999" x2="770.5999999999999" y2="97.75999999999999" stroke="#e4e4e4" stroke-width="1"/><text x="71.59999999999991" y="101.35999999999999" text-anchor="end" class="tk">$1600K</text><line x1="75.09999999999991" y1="74.73000000000002" x2="770.5999999999999" y2="74.73000000000002" stroke="#e4e4e4" stroke-width="1"/><text x="71.59999999999991" y="78.33000000000001" text-anchor="end" class="tk">$1800K</text><line x1="83.0" y1="74.70000000000005" x2="83.0" y2="289.79999999999995" stroke="#e4e4e4" stroke-width="1"/><line x1="197.5999999999999" y1="74.70000000000005" x2="197.5999999999999" y2="289.79999999999995" stroke="#e4e4e4" stroke-width="1"/><line x1="312.20000000000005" y1="74.70000000000005" x2="312.20000000000005" y2="289.79999999999995" stroke="#e4e4e4" stroke-width="1"/><line x1="426.79999999999995" y1="74.70000000000005" x2="426.79999999999995" y2="289.79999999999995" stroke="#e4e4e4" stroke-width="1"/><line x1="541.3999999999999" y1="74.70000000000005" x2="541.3999999999999" y2="289.79999999999995" stroke="#e4e4e4" stroke-width="1"/><line x1="656.0" y1="74.70000000000005" x2="656.0" y2="289.79999999999995" stroke="#e4e4e4" stroke-width="1"/><line x1="770.5999999999999" y1="74.70000000000005" x2="770.5999999999999" y2="289.79999999999995" stroke="#e4e4e4" stroke-width="1"/><line x1="83.0" y1="74.70000000000005" x2="83.0" y2="289.79999999999995" stroke="#d4d4d4" stroke-width="1"/><line x1="75.09999999999991" y1="282.0" x2="770.5999999999999" y2="282.0" stroke="#d4d4d4" stroke-width="1.2"/><rect x="99.04399999999987" y="196.09809999999993" width="82.512" height="85.90190000000007" fill="#22c55e" fill-opacity="0.7"/><path d="M99.34399999999987 282.0 V196.39809999999994 H181.2559999999998 V282.0" fill="none" stroke="#1f9e55" stroke-width="0.7"/><text transform="translate(141.5,296.79999999999995) rotate(-44)" text-anchor="end" class="tkx" y="3.5">Bill Review Optimization</text><rect x="213.644" y="236.28544999999997" width="82.512" height="45.71455000000003" fill="#22c55e" fill-opacity="0.7"/><path d="M213.94400000000002 282.0 V236.58544999999998 H295.85599999999994 V282.0" fill="none" stroke="#1f9e55" stroke-width="0.7"/><text transform="translate(256.10000000000014,296.79999999999995) rotate(-44)" text-anchor="end" class="tkx" y="3.5">AI-Powered Analysis</text><rect x="328.2439999999999" y="275.091" width="82.512" height="6.908999999999992" fill="#22c55e" fill-opacity="0.7"/><path d="M328.5439999999999 282.0 V275.391 H410.45599999999985 V282.0" fill="none" stroke="#1f9e55" stroke-width="0.7"/><text transform="translate(370.70000000000005,296.79999999999995) rotate(-44)" text-anchor="end" class="tkx" y="3.5">Process Efficiency</text><rect x="442.8439999999998" y="253.55795" width="82.512" height="28.442049999999995" fill="#22c55e" fill-opacity="0.7"/><path d="M443.14399999999983 282.0 V253.85795000000002 H525.0559999999998 V282.0" fill="none" stroke="#1f9e55" stroke-width="0.7"/><text transform="translate(485.29999999999995,296.79999999999995) rotate(-44)" text-anchor="end" class="tkx" y="3.5">Denial Management</text><rect x="557.4439999999997" y="265.18809999999996" width="82.512" height="16.811900000000037" fill="#22c55e" fill-opacity="0.7"/><path d="M557.7439999999997 282.0 V265.4881 H639.6559999999997 V282.0" fill="none" stroke="#1f9e55" stroke-width="0.7"/><text transform="translate(599.8999999999999,296.79999999999995) rotate(-44)" text-anchor="end" class="tkx" y="3.5">Member Protection</text><rect x="672.0439999999996" y="97.06909999999993" width="82.512" height="184.93090000000007" fill="#3b82f6" fill-opacity="0.7"/><path d="M672.3439999999996 282.0 V97.36909999999993 H754.2559999999996 V282.0" fill="none" stroke="#3a6fd4" stroke-width="0.7"/><text transform="translate(714.4999999999998,296.79999999999995) rotate(-44)" text-anchor="end" class="tkx" y="3.5">Total Savings</text></svg><div class="ctitle" style="left:25.5px;top:24px;font-size:17.48px">Savings Breakdown Waterfall</div></div>
</div>

</body>
</html>
